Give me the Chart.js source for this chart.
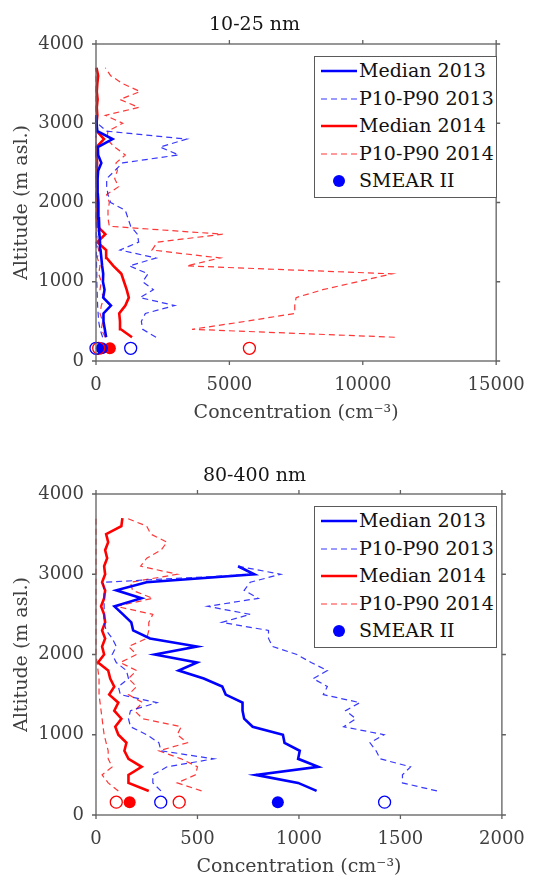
<!DOCTYPE html>
<html><head><meta charset="utf-8">
<script src="https://cdn.jsdelivr.net/npm/chart.js@4.4.1/dist/chart.umd.min.js"></script>
<style>
html,body{margin:0;padding:0;background:#fff;overflow:hidden;width:538px;height:878px;}
.wrap{position:absolute;left:0;width:538px;height:440px;}
canvas{display:block;}
.legend{position:absolute;left:314px;width:183px;height:142px;box-sizing:border-box;border:1.3px solid #5a5a5a;background:#fff;font-family:"DejaVu Serif",serif;font-size:19px;color:#111;}
.row{position:absolute;left:0;height:28px;width:100%;}
.row svg{position:absolute;left:5px;top:0;}
.row span{position:absolute;left:44px;top:14px;transform:translateY(-52%);line-height:1;white-space:nowrap;}
</style></head>
<body>
<div class="wrap" style="top:0"><canvas id="c1" width="538" height="440"></canvas></div>
<div class="wrap" style="top:440px"><canvas id="c2" width="538" height="440"></canvas></div>
<div class="legend" id="lg1" style="top:56px"></div>
<div class="legend" id="lg2" style="top:506px"></div>
<script>
// ---------------- data ----------------
const altitudes = [300,400,500,600,700,800,900,1000,1100,1200,1300,1400,1500,1600,1700,1800,1900,2000,2100,2200,2300,2400,2500,2600,2700,2800,2900,3000,3100,3200,3300,3400,3500,3600,3700];
const smearAltitude = 160;

const chartTitles = ["10-25 nm", "80-400 nm"];
const xAxisTitle = "Concentration (cm\u207B\u00B3)";
const yAxisTitle = "Altitude (m asl.)";
const legendLabels = ["Median 2013", "P10-P90 2013", "Median 2014", "P10-P90 2014", "SMEAR II"];

const xTicksSmall = [0, 5000, 10000, 15000];
const xTicksLarge = [0, 500, 1000, 1500, 2000];
const yTicks = [0, 1000, 2000, 3000, 4000];

// 10-25 nm (2013 profiles reach 3100 m)
const median2013Small = [380,330,280,280,560,270,320,260,270,230,200,170,150,130,120,110,100,80,70,60,60,80,200,80,70,620,50,20,10];
const p10_2013Small   = [250,150,100,80,60,50,40,30,30,20,20,15,10,10,10,5,5,5,5,0,0,0,0,0,0,0,0,0,0];
const p90_2013Small   = [2250,1750,1700,1850,2950,1650,2150,1750,1950,1250,2250,900,1600,1550,1300,1200,1100,550,450,400,400,700,1000,3100,2400,3400,400,50,30];
const median2014Small = [1350,930,900,870,1100,1230,1150,1050,950,650,400,380,50,350,50,30,40,30,20,40,20,30,40,30,20,300,30,20,50,30,60,30,50,80,20];
const p10_2014Small   = [350,200,250,150,200,300,150,200,100,150,50,100,20,50,20,10,10,10,10,10,0,0,0,0,0,0,0,0,0,0,0,0,0,0,0];
const p90_2014Small   = [11200,3600,5600,7450,7450,7500,8500,9800,11100,3400,4650,2100,2300,4750,500,450,450,500,400,850,700,800,750,1100,700,400,450,1000,350,1600,900,1650,1000,550,350];
// SMEAR II: [median 2013, P10 2013, P90 2013, median 2014, P10 2014, P90 2014]
const smearSmall = [220, 0, 1300, 520, 100, 5750];

// 80-400 nm
const median2013Large = [1087,996,788,1095,996,1004,929,921,772,730,722,722,639,622,531,407,498,290,498,266,183,174,133,91,224,100,249,780,700];
const p10_2013Large   = [320,280,280,350,580,320,310,250,170,160,170,300,120,110,160,150,100,80,100,80,50,40,40,40,40,40,35,780,700];
const p90_2013Large   = [1680,1510,1510,1550,1400,1380,1350,1420,1220,1280,1230,1300,1120,1140,1070,1140,1060,990,870,850,850,620,760,550,800,730,760,910,700];
const median2014Large = [260,160,160,225,160,140,150,110,95,125,90,110,65,90,70,60,10,40,30,45,30,45,40,25,40,45,30,45,40,55,45,60,50,125,130];
const p10_2014Large   = [110,60,30,80,60,60,50,40,35,30,25,20,15,15,15,10,5,0,0,0,0,0,0,0,0,0,0,0,0,0,0,0,0,0,0];
const p90_2014Large   = [520,400,490,500,420,310,450,400,420,230,190,230,160,200,160,200,120,200,160,250,260,260,280,100,280,180,170,400,220,250,320,350,270,250,150];
const smearLarge = [896, 319, 1422, 166, 100, 410];

// ---------------- styling ----------------
const FONT = '"DejaVu Serif", serif';
const BLUE = '#0000ff', RED = '#ff0000';
const BLUE_D = 'rgba(20,20,255,0.85)', RED_D = 'rgba(255,20,20,0.85)';
const DASH = [6, 4];

function profile(values){
  const pts = [];
  values.forEach((v,i)=>{ if(v!==null && v!==undefined) pts.push({x:v, y:altitudes[i]}); });
  return pts;
}
function lineDs(values, color, dashed){
  return {data: profile(values), showLine:true, pointRadius:0, borderColor:color,
    borderWidth: dashed?1.2:2.6, borderDash: dashed?DASH:[], clip:6, fill:false, tension:0};
}
function pointDs(value, color, filled){
  return {data:[{x:value, y:smearAltitude}], showLine:false, pointRadius:6, pointHoverRadius:6,
    pointBorderWidth: filled?0:1.3, pointBorderColor: color,
    pointBackgroundColor: filled?color:'rgba(0,0,0,0)', clip:false};
}

const frame = {
  id:'frame',
  afterDatasetsDraw(chart){
    const {ctx, chartArea:{left,right,top,bottom}, scales:{x,y}} = chart;
    ctx.save();
    ctx.strokeStyle = '#606060'; ctx.lineWidth = 1.3;
    ctx.strokeRect(left, top, right-left, bottom-top);
    ctx.beginPath();
    const L = 4;
    x.ticks.forEach(t=>{ const p = x.getPixelForValue(t.value);
      ctx.moveTo(p,bottom); ctx.lineTo(p,bottom+L); ctx.moveTo(p,top); ctx.lineTo(p,top-L); });
    y.ticks.forEach(t=>{ const p = y.getPixelForValue(t.value);
      ctx.moveTo(left,p); ctx.lineTo(left-L,p); ctx.moveTo(right,p); ctx.lineTo(right+L,p); });
    ctx.stroke();
    ctx.restore();
  }
};

function makeChart(id, title, xMax, xTicks, sets, smear, titlePad, padBottom){
  const datasets = [
    lineDs(sets[1], BLUE_D, true),
    lineDs(sets[2], BLUE_D, true),
    lineDs(sets[0], BLUE, false),
    lineDs(sets[4], RED_D, true),
    lineDs(sets[5], RED_D, true),
    lineDs(sets[3], RED, false),
    pointDs(smear[1], BLUE, false),
    pointDs(smear[2], BLUE, false),
    pointDs(smear[4], RED, false),
    pointDs(smear[5], RED, false),
    pointDs(smear[0], BLUE, true),
    pointDs(smear[3], RED, true)
  ];
  return new Chart(document.getElementById(id), {
    type:'scatter',
    data:{datasets},
    options:{
      responsive:false, animation:false, devicePixelRatio:1,
      layout:{padding:{left:0,right:29,top:0,bottom:padBottom}},
      plugins:{
        legend:{display:false}, tooltip:{enabled:false},
        title:{display:true, text:title, color:'#161616',
          font:{family:FONT,size:19,weight:'normal',lineHeight:1.2}, padding:titlePad}
      },
      scales:{
        x:{type:'linear', min:0, max:xMax,
          afterBuildTicks:s=>{ s.ticks = xTicks.map(v=>({value:v})); },
          grid:{display:false, drawTicks:false}, border:{display:false},
          ticks:{padding:13.2, color:'#404040', maxRotation:0, autoSkip:false,
            callback:v=>String(v), font:{family:FONT,size:18,lineHeight:1.2}},
          title:{display:true, text:xAxisTitle, color:'#404040',
            font:{family:FONT,size:19,lineHeight:1.2}, padding:{top:0,bottom:0}},
          afterFit:s=>{ s.height = 63.4; }
        },
        y:{type:'linear', min:0, max:4000,
          afterBuildTicks:s=>{ s.ticks = yTicks.map(v=>({value:v})); },
          grid:{display:false, drawTicks:false}, border:{display:false},
          ticks:{padding:12, color:'#404040', callback:v=>String(v),
            font:{family:FONT,size:18,lineHeight:1.2}},
          title:{display:true, text:yAxisTitle, color:'#404040',
            font:{family:FONT,size:19,lineHeight:1.2}, padding:{top:10.6,bottom:0}},
          afterFit:s=>{ s.width = 96; }
        }
      }
    },
    plugins:[frame]
  });
}

makeChart('c1', chartTitles[0], 15000, xTicksSmall,
  [median2013Small,p10_2013Small,p90_2013Small,median2014Small,p10_2014Small,p90_2014Small],
  smearSmall, {top:13.6,bottom:7.6}, 15.6);
makeChart('c2', chartTitles[1], 2000, xTicksLarge,
  [median2013Large,p10_2013Large,p90_2013Large,median2014Large,p10_2014Large,p90_2014Large],
  smearLarge, {top:24.6,bottom:6.6}, 1.6);

// ---------------- legends ----------------
const legendStyles = [
  {color:BLUE, dash:false}, {color:BLUE_D, dash:true},
  {color:RED, dash:false}, {color:RED_D, dash:true}, {color:BLUE, marker:true}
];
function buildLegend(id){
  const box = document.getElementById(id);
  legendLabels.forEach((lab,i)=>{
    const st = legendStyles[i];
    const row = document.createElement('div');
    row.className = 'row';
    row.style.top = (0 + i*27.5) + 'px';
    let svg;
    if(st.marker){
      svg = '<svg width="38" height="28"><circle cx="19" cy="14" r="6" fill="'+st.color+'"/></svg>';
    } else {
      svg = '<svg width="38" height="28"><line x1="1" y1="14" x2="37" y2="14" stroke="'+st.color+'" stroke-width="'+(st.dash?1.2:2.6)+'"'+(st.dash?' stroke-dasharray="6 4"':'')+'/></svg>';
    }
    row.innerHTML = svg + '<span>'+lab+'</span>';
    box.appendChild(row);
  });
}
buildLegend('lg1'); buildLegend('lg2');
</script>
</body></html>
